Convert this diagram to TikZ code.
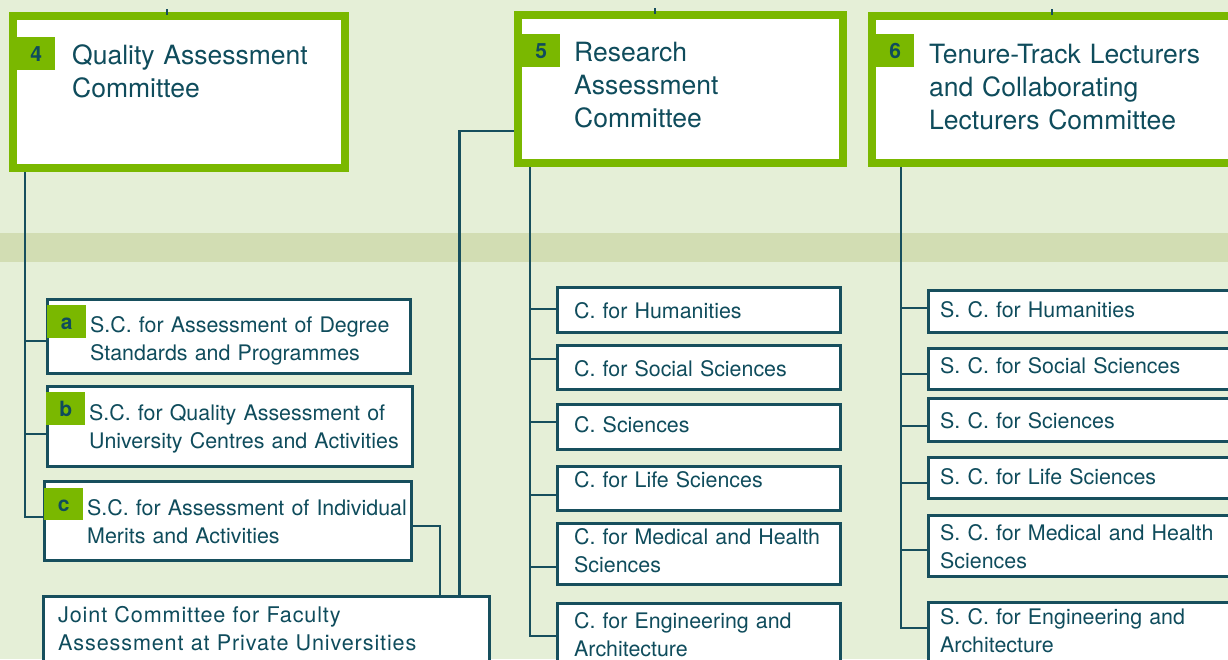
\documentclass[tikz,border=0pt]{standalone}
\usepackage{fontspec}
\setmainfont{TeX Gyre Heros}
\usetikzlibrary{fit,calc}
\definecolor{bg}{HTML}{E5EFD7}
\definecolor{band}{HTML}{D2DDB3}
\definecolor{grn}{HTML}{7AB800}
\definecolor{ink}{HTML}{0F4C5C}
\definecolor{wire}{HTML}{174F5D}
\begin{document}
\begin{tikzpicture}[x=1pt,y=-1pt,
 bigbox/.style={draw=grn, line width=8pt, fill=white, inner sep=0pt},
 smallbox/.style={draw=wire, line width=3pt, fill=white, inner sep=0pt},
 conn/.style={draw=wire, line width=2.5pt},
 tick/.style={draw=wire, line width=1.5pt},
 tag/.style={fill=grn, text=ink, inner sep=0pt, minimum width=38pt, minimum height=33pt, anchor=north west, text height=15pt, text depth=-1pt, font=\fontsize{21}{21}\selectfont\bfseries},
 bigtxt/.style={anchor=base west, inner sep=0pt, text width=400pt, align=left, text=ink, font=\fontsize{26.5}{33}\selectfont},
 smalltxt/.style={anchor=base west, inner sep=0pt, text width=400pt, align=left, text=ink, font=\fontsize{21.4}{28.5}\selectfont},
 jointtxt/.style={smalltxt, font={\fontsize{21.6}{28}\selectfont\addfontfeatures{LetterSpace=4}}},
]
\clip (0,0) rectangle (1228,659);
\fill[bg] (0,0) rectangle (1228,659);
\fill[band] (0,233) rectangle (1228,262);

% main committees
\node[bigbox, fit={(13,16)(345,168)}] (b4) {};
\node[bigbox, fit={(518,15)(843,163)}] (b5) {};
\node[bigbox, fit={(872,16)(1240,163)}] (b6) {};

% column 4 sub-committees
\node[smallbox, fit={(47.5,299.5)(410.5,373.5)}] (sa) {};
\node[smallbox, fit={(47.5,386.5)(412.5,466.5)}] (sb) {};
\node[smallbox, fit={(44.5,481.5)(411.5,560.5)}] (sc) {};
\node[smallbox, fit={(43.5,596.5)(489.5,700)}] (jc) {};

% column 5
\node[smallbox, fit={(557.5,287.5)(840.5,332.5)}] (ch) {};
\node[smallbox, fit={(557.5,345.5)(840.5,389.5)}] (cs) {};
\node[smallbox, fit={(557.5,404.5)(840.5,449.5)}] (ci) {};
\node[smallbox, fit={(557.5,466.5)(840.5,510.5)}] (cl) {};
\node[smallbox, fit={(557.5,523.5)(840.5,584.5)}] (cm) {};
\node[smallbox, fit={(557.5,603.5)(840.5,700)}] (ce) {};

% column 6
\node[smallbox, fit={(928.5,290.5)(1240,332.5)}] (sh) {};
\node[smallbox, fit={(928.5,348.5)(1240,389.5)}] (ss) {};
\node[smallbox, fit={(928.5,398.5)(1240,441.5)}] (si) {};
\node[smallbox, fit={(928.5,457.5)(1240,498.5)}] (sl) {};
\node[smallbox, fit={(928.5,515.5)(1240,576.5)}] (sm) {};
\node[smallbox, fit={(928.5,602.5)(1240,700)}] (se) {};

% connectors column 4
\draw[conn] ([xshift=16pt]b4.south west) |- ([yshift=4pt]sc.west);
\draw[conn] ([yshift=-4.5pt]sa.west) -- +(-21,0);
\draw[conn] ([yshift=-7.5pt]sb.west) -- +(-21,0);
\draw[conn] ([yshift=-5pt]sc.east) -| ([xshift=173.5pt]jc.north);
\draw[conn] ([yshift=-42pt]b5.west) -| ([xshift=193pt]jc.north);

% connectors column 5
\draw[conn] ([xshift=16pt]b5.south west) |- ([yshift=-34pt]ce.north west);
\draw[conn] ([yshift=1pt]ch.west) -- +(-26,0);
\draw[conn] ([yshift=8.5pt]cs.west) -- +(-26,0);
\draw[conn] ([yshift=5pt]ci.west) -- +(-26,0);
\draw[conn] ([yshift=-6.5pt]cl.west) -- +(-26,0);
\draw[conn] ([yshift=-13pt]cm.west) -- +(-26,0);

% connectors column 6
\draw[conn] ([xshift=33pt]b6.south west) |- ([yshift=-27pt]se.north west);
\draw[conn] ([yshift=3.5pt]sh.west) -- +(-26,0);
\draw[conn] ([yshift=-5pt]ss.west) -- +(-26,0);
\draw[conn] ([yshift=-6pt]si.west) -- +(-26,0);
\draw[conn] ([yshift=-5pt]sl.west) -- +(-26,0);
\draw[conn] ([yshift=-4pt]sm.west) -- +(-26,0);

% ticks from above
\coordinate (k4) at (167,9);
\coordinate (k5) at (655,8);
\coordinate (k6) at (1052,9);
\draw[tick] (k4) -- ++(0,6);
\draw[tick] (k5) -- ++(0,6);
\draw[tick] (k6) -- ++(0,6);

% tags
\node[tag] (n4) at (17,37) {4};
\node[tag] (n5) at (522,34) {5};
\node[tag] (n6) at (876,34) {6};
\node[tag, minimum width=39pt] (na) at (47,305) {a};
\node[tag, minimum width=39pt] (nb) at (46,392) {b};
\node[tag, minimum width=39pt, minimum height=32pt] (nc) at (44,488) {c};

% texts
\node[bigtxt] (t4) at (72,64) {Quality Assessment\\Committee};
\node[bigtxt] (t5) at (574,61) {Research\\Assessment\\Committee};
\node[bigtxt] (t6) at (929,63) {Tenure-Track Lecturers\\and Collaborating\\Lecturers Committee};

\node[smalltxt] (ta) at (90,332) {S.C. for Assessment of Degree\\Standards and Programmes};
\node[smalltxt] (tb) at (89,420) {S.C. for Quality Assessment of\\University Centres and Activities};
\node[smalltxt] (tc) at (87,515) {S.C. for Assessment of Individual\\Merits and Activities};
\node[jointtxt] (tj) at (58,622) {Joint Committee for Faculty\\Assessment at Private Universities};

\node[smalltxt] (tch) at (574,318) {C. for Humanities};
\node[smalltxt] (tcs) at (574,376) {C. for Social Sciences};
\node[smalltxt] (tci) at (574,432) {C. Sciences};
\node[smalltxt] (tcl) at (574,487) {C. for Life Sciences};
\node[smalltxt] (tcm) at (574,544) {C. for Medical and Health\\Sciences};
\node[smalltxt] (tce) at (574,628) {C. for Engineering and\\Architecture};

\node[smalltxt] (tsh) at (940,317) {S. C. for Humanities};
\node[smalltxt] (tss) at (940,373) {S. C. for Social Sciences};
\node[smalltxt] (tsi) at (940,428) {S. C. for Sciences};
\node[smalltxt] (tsl) at (940,484) {S. C. for Life Sciences};
\node[smalltxt] (tsm) at (940,540) {S. C. for Medical and Health\\Sciences};
\node[smalltxt] (tse) at (940,624) {S. C. for Engineering and\\Architecture};
\end{tikzpicture}
\end{document}
